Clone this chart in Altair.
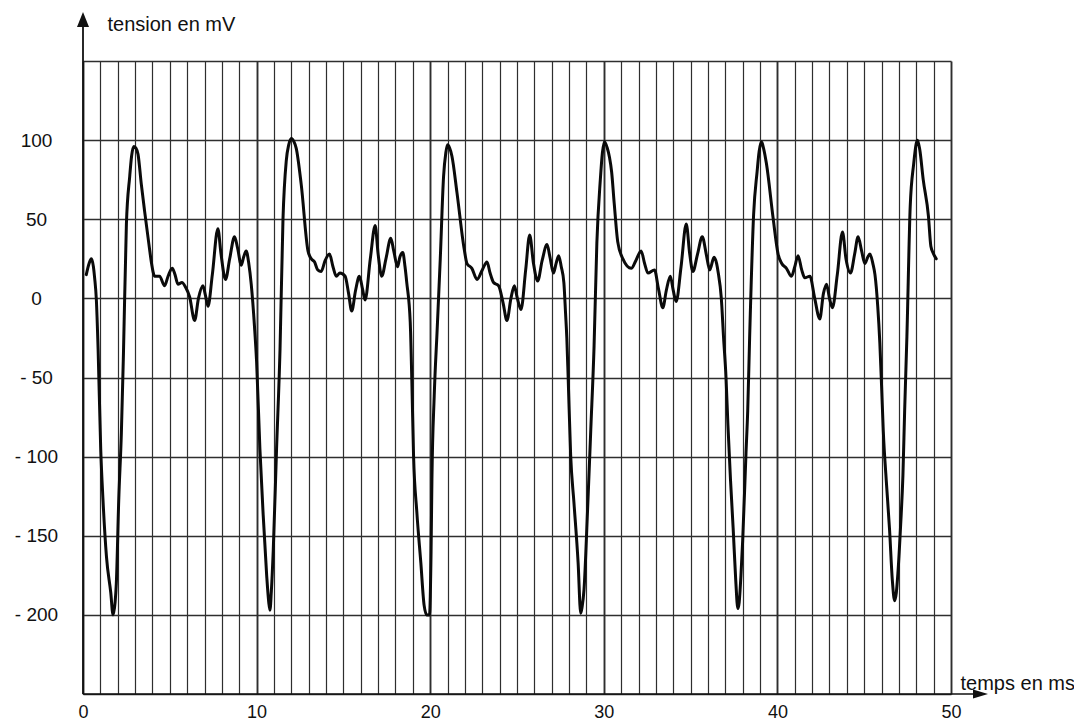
import altair as alt
import pandas as pd

# ---- data (time in ms, voltage in mV) ----
t_ms = [
    0.19, 0.35, 0.48, 0.6, 0.67, 0.77, 0.87, 1.02, 1.15, 1.35, 1.6, 1.73, 1.85, 1.92, 2.06, 2.21, 2.33,
    2.5, 2.69, 2.8, 2.92, 3.05, 3.17, 3.36, 3.55, 3.8, 3.95, 4.13, 4.41, 4.7, 4.9, 5.14, 5.3, 5.47,
    5.7, 5.91, 6.14, 6.43, 6.65, 6.91, 7.05, 7.2, 7.45, 7.77, 7.95, 8.21, 8.45, 8.73, 8.9, 9.12,
    9.25, 9.4, 9.55, 9.69, 9.88, 10.0, 10.19, 10.38, 10.58, 10.7, 10.77, 10.85, 10.96, 11.15, 11.35,
    11.52, 11.71, 11.85, 12.0, 12.15, 12.28, 12.57, 12.96, 13.15, 13.34, 13.52, 13.72, 13.95, 14.2,
    14.4, 14.59, 14.8, 15.1, 15.3, 15.48, 15.7, 15.92, 16.1, 16.25, 16.55, 16.83, 17.0, 17.21, 17.45,
    17.73, 17.9, 18.12, 18.25, 18.42, 18.55, 18.65, 18.85, 18.94, 19.04, 19.23, 19.46, 19.65, 19.8,
    19.96, 20.05, 20.1, 20.23, 20.4, 20.58, 20.77, 20.9, 21.0, 21.12, 21.25, 21.54, 21.96, 22.12,
    22.4, 22.7, 23.0, 23.27, 23.45, 23.65, 23.94, 24.2, 24.42, 24.65, 24.85, 25.0, 25.23, 25.5, 25.73,
    25.95, 26.19, 26.45, 26.73, 26.9, 27.1, 27.25, 27.4, 27.55, 27.7, 27.8, 27.87, 27.95, 28.09,
    28.28, 28.52, 28.67, 28.75, 28.86, 29.06, 29.25, 29.44, 29.6, 29.8, 29.92, 30.04, 30.2, 30.33,
    30.45, 30.6, 30.8, 31.1, 31.58, 31.85, 32.15, 32.35, 32.54, 32.92, 33.15, 33.4, 33.6, 33.83,
    34.0, 34.17, 34.45, 34.75, 34.95, 35.13, 35.4, 35.67, 35.9, 36.1, 36.35, 36.5, 36.58, 36.77,
    36.9, 37.04, 37.15, 37.3, 37.45, 37.6, 37.72, 37.8, 37.9, 38.0, 38.19, 38.29, 38.4, 38.63, 38.83,
    38.95, 39.08, 39.2, 39.37, 39.75, 40.04, 40.25, 40.52, 40.81, 41.0, 41.19, 41.4, 41.58, 41.87,
    42.15, 42.44, 42.65, 42.83, 43.0, 43.17, 43.45, 43.75, 43.95, 44.21, 44.45, 44.65, 44.85, 45.04,
    45.2, 45.33, 45.5, 45.62, 45.78, 45.9, 46.0, 46.1, 46.27, 46.46, 46.62, 46.75, 46.85, 46.94,
    47.1, 47.23, 47.33, 47.46, 47.65, 47.85, 48.0, 48.07, 48.2, 48.4, 48.7, 48.84, 49.0, 49.15,
]
v_mv = [
    15, 22, 25, 20, 13, -1, -32, -95, -127, -163, -186, -200, -192, -180, -127, -85, -35,
    47, 77, 90, 96, 95, 91, 72, 55, 34, 22, 14, 14, 8, 14, 19, 15, 9,
    10, 7, 1, -14, 0, 8, 2, -5, 15, 44, 28, 12, 25, 39, 32, 21,
    26, 30, 22, 9, -18, -40, -95, -137, -175, -192, -197, -185, -159, -95, -32,
    50, 87, 97, 101, 99, 95, 72, 30, 25, 23, 18, 17, 24, 28,
    20, 14, 16, 14, 3, -8, 5, 14, 6, -1, 25, 46, 28, 14, 25,
    38, 30, 20, 26, 29, 20, 10, -15, -51, -99, -135, -167, -194, -200,
    -200, -160, -114, -62, -20, 25, 77, 92, 97, 95, 90, 67, 31, 22,
    19, 12, 18, 23, 16, 10, 8, -3, -14, 0, 8, 1, -7, 18, 40,
    22, 11, 24, 34, 26, 16, 22, 27, 20, 10, -10, -25, -51, -99,
    -129, -167, -199, -195, -184, -135, -83, -30, 35, 75, 92, 99, 95, 89,
    80, 60, 36, 25, 19, 24, 30, 22, 16, 18, 6, -6, 5, 14,
    5, -2, 20, 47, 28, 17, 28, 39, 28, 18, 26, 22, 17, 0,
    -25, -50, -80, -115, -145, -178, -196, -192, -175, -153, -98, -71, -25, 53, 80,
    93, 99, 95, 85, 51, 28, 22, 19, 14, 20, 27, 18, 13, 14,
    0, -13, 3, 9, 0, -6, 15, 42, 25, 16, 28, 39, 30, 22,
    26, 28, 22, 15, -5, -28, -55, -84, -115, -146, -178, -191, -186, -174,
    -143, -112, -71, -24, 58, 85, 98, 100, 94, 75, 52, 33, 28, 25,
]

x_grid = list(range(0, 51))            # one grid line per ms
y_grid = list(range(-250, 151, 50))    # one grid line per 50 mV

df = pd.DataFrame({"t": t_ms, "v": v_mv})

W, H = 868, 633
FONT = "Liberation Sans"
INK = "#111111"
GRID = "#2e2e2e"

xs = alt.Scale(domain=[0, 50], nice=False, zero=False)
ys = alt.Scale(domain=[-250, 150], nice=False, zero=False)

x_axis = alt.Axis(
    values=x_grid, tickCount=200, grid=True, gridColor=GRID, gridOpacity=1,
    gridWidth={"condition": {"test": "datum.value % 10 === 0", "value": 1.9}, "value": 1.2},
    domain=False, ticks=False, tickSize=0,
    labelExpr="datum.value % 10 === 0 ? '' + round(datum.value) : ''",
    labelFont=FONT, labelFontSize=18, labelColor=INK, labelPadding=18,
    labelBaseline="middle", labelFlush=False, labelOverlap=False,
    title="temps en ms", titleX=877, titleY=-11, titleAlign="left", titleBaseline="middle",
    titleFont=FONT, titleFontSize=20, titleFontWeight="normal", titleColor=INK,
)
y_axis = alt.Axis(
    values=y_grid, tickCount=200, grid=True, gridColor=GRID, gridOpacity=1, gridWidth=1.4,
    domain=False, ticks=False, tickSize=0,
    labelExpr="(datum.value == 150 || datum.value == -250) ? '' : (datum.value < 0 ? '- ' + round(abs(datum.value)) : '' + round(datum.value))",
    labelFont=FONT, labelFontSize=19, labelColor=INK, labelPadding=47,
    labelAlign="center", labelBaseline="middle", labelFlush=False, labelOverlap=False,
    title="tension en mV", titleAngle=0, titleX=24, titleY=-37, titleAlign="left",
    titleBaseline="middle", titleFont=FONT, titleFontSize=20, titleFontWeight="normal",
    titleColor=INK,
)

curve = alt.Chart(df).mark_line(
    color="#0a0a0a", strokeWidth=3, interpolate="monotone", strokeJoin="round", strokeCap="round"
).encode(
    x=alt.X("t:Q", scale=xs, axis=x_axis),
    y=alt.Y("v:Q", scale=ys, axis=y_axis),
)

# axis lines with arrows
y_line = alt.Chart().mark_rule(color=INK, strokeWidth=1.8).encode(
    x=alt.datum(0, scale=xs), y=alt.value(H), y2=alt.value(-37)
)
x_line = alt.Chart().mark_rule(color=INK, strokeWidth=1.6).encode(
    y=alt.datum(-250, scale=ys), x=alt.value(0), x2=alt.value(892)
)
y_head = alt.Chart().mark_point(
    shape="M0,-1L0.8,1L-0.8,1Z", filled=True, size=225, color=INK, opacity=1, strokeWidth=0
).encode(x=alt.datum(0, scale=xs), y=alt.value(-41.5))
x_head = alt.Chart().mark_point(
    shape="M1,0L-1,-0.6L-1,0.6Z", filled=True, size=225, color=INK, opacity=1, strokeWidth=0
).encode(x=alt.value(897.5), y=alt.datum(-250, scale=ys))

chart = alt.layer(curve, y_line, x_line, y_head, x_head).properties(
    width=W, height=H,
    autosize=alt.AutoSizeParams(type="none"),
    padding={"left": 75, "top": 53, "right": 123, "bottom": 26},
    background="white",
).configure_view(strokeWidth=0)

chart.save("out.html", embed_options={"renderer": "svg", "actions": False})
